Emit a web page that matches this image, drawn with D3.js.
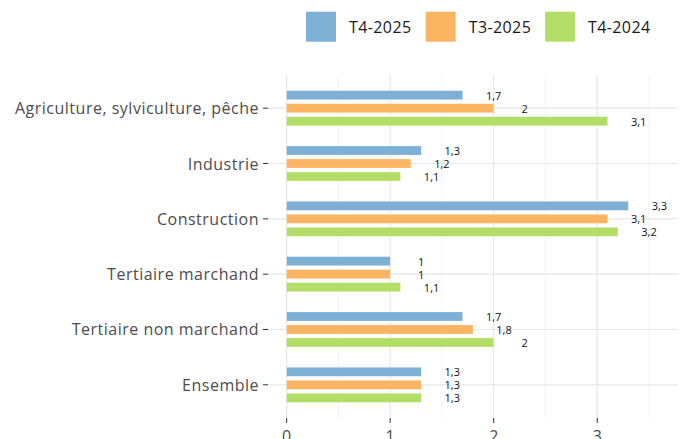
<!DOCTYPE html>
<html><head><meta charset="utf-8">
<script src="https://cdn.jsdelivr.net/npm/d3@7"></script>
<style>body{margin:0;background:#fff;} svg{display:block;}</style>
</head><body>
<script>
const categories = ["Agriculture, sylviculture, pêche","Industrie","Construction","Tertiaire marchand","Tertiaire non marchand","Ensemble"];
const seriesNames = ["T4-2025","T3-2025","T4-2024"];
const t4_2025 = [1.7,1.3,3.3,1.0,1.7,1.3];
const t3_2025 = [2.0,1.2,3.1,1.0,1.8,1.3];
const t4_2024 = [3.1,1.1,3.2,1.1,2.0,1.3];
const xTicks = [0,1,2,3];
const colors = ["#7eb0d5","#fbb461","#b2de68"];
const seriesValues = [t4_2025,t3_2025,t4_2024];

const W=683,H=439;
const font="'Open Sans', sans-serif";
const svg=d3.select("body").append("svg").attr("width",W).attr("height",H);
const pL=268,pR=678,pT=75,pB=418;
const x=d3.scaleLinear().domain([-0.18,3.78]).range([pL,pR]);
const y=d3.scalePoint().domain(categories).range([pT,pB]).padding(0.6);
// grid
const g=svg.append("g");
[0.5,1.5,2.5,3.5].forEach(v=>g.append("line").attr("x1",x(v)).attr("x2",x(v)).attr("y1",pT).attr("y2",pB).attr("stroke","#f0f0f0").attr("stroke-width",0.8));
xTicks.forEach(v=>g.append("line").attr("x1",x(v)).attr("x2",x(v)).attr("y1",pT).attr("y2",pB).attr("stroke","#e6e6e6").attr("stroke-width",1.2));
categories.forEach(c=>g.append("line").attr("x1",pL).attr("x2",pR).attr("y1",y(c)).attr("y2",y(c)).attr("stroke","#e6e6e6").attr("stroke-width",1.2));
// bars
const bh=9, pitch=13;
seriesValues.forEach((vals,si)=>{
  const gg=svg.append("g");
  gg.selectAll("rect").data(vals).join("rect")
    .attr("x",x(0)).attr("width",d=>x(d)-x(0))
    .attr("y",(d,i)=>y(categories[i])+(si-1)*pitch-bh/2).attr("height",bh)
    .attr("fill",colors[si]).attr("stroke","#fff").attr("stroke-opacity",0.4).attr("stroke-width",0.5);
  gg.selectAll("text").data(vals).join("text")
    .attr("x",d=>x(d+0.3)).attr("y",(d,i)=>y(categories[i])+(si-1)*pitch+1.5)
    .attr("text-anchor","middle").attr("dominant-baseline","middle")
    .attr("font-family",font).attr("font-size",11).attr("fill","#111")
    .text(d=>String(d).replace(".",","));
});
// y axis
const ya=svg.append("g");
categories.forEach(c=>{
  ya.append("line").attr("x1",263).attr("x2",268).attr("y1",y(c)).attr("y2",y(c)).attr("stroke","#333").attr("stroke-width",1);
  ya.append("text").attr("x",259).attr("y",y(c)).attr("text-anchor","end").attr("dominant-baseline","central")
    .attr("font-family",font).attr("font-size",16).attr("letter-spacing",0.5).attr("fill","#4d4d4d").text(c);
});
// x axis
const xa=svg.append("g");
xTicks.forEach(v=>{
  xa.append("line").attr("x1",x(v)).attr("x2",x(v)).attr("y1",pB).attr("y2",pB+5).attr("stroke","#333");
  xa.append("text").attr("x",x(v)).attr("y",442).attr("text-anchor","middle")
    .attr("font-family",font).attr("font-size",16).attr("fill","#4d4d4d").text(v);
});
// legend
const legX=[306,425.7,545];
seriesNames.forEach((n,i)=>{
  svg.append("rect").attr("x",legX[i]).attr("y",11.7).attr("width",30).attr("height",30).attr("fill",colors[i]);
  svg.append("text").attr("x",legX[i]+43).attr("y",27).attr("dominant-baseline","central")
    .attr("font-family",font).attr("font-size",16).attr("letter-spacing",0.4).attr("fill","#1a1a1a").text(n);
});
</script>
</body></html>
